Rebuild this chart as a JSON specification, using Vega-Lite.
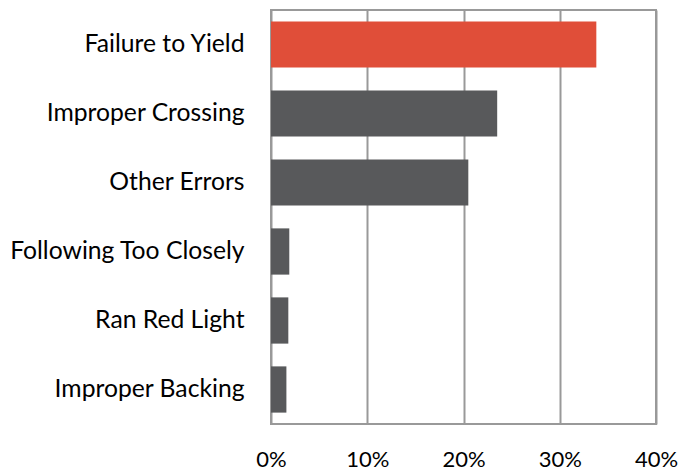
{
  "$schema": "https://vega.github.io/schema/vega-lite/v6.json",
  "autosize": {"type": "none"},
  "width": 385,
  "height": 414,
  "padding": {"left": 271, "top": 10, "right": 24, "bottom": 46},
  "background": "white",
  "data": {
    "values": [
      {"cause": "Failure to Yield", "share": 0.338, "highlight": "yes"},
      {"cause": "Improper Crossing", "share": 0.235, "highlight": "no"},
      {"cause": "Other Errors", "share": 0.205, "highlight": "no"},
      {"cause": "Following Too Closely", "share": 0.019, "highlight": "no"},
      {"cause": "Ran Red Light", "share": 0.018, "highlight": "no"},
      {"cause": "Improper Backing", "share": 0.016, "highlight": "no"}
    ]
  },
  "mark": {"type": "bar"},
  "encoding": {
    "y": {
      "field": "cause",
      "type": "nominal",
      "sort": null,
      "title": null,
      "scale": {"paddingInner": 0.33, "paddingOuter": 0.165},
      "axis": {"domain": false, "ticks": false, "labelPadding": 27, "labelFontSize": 24.7, "labelFont": "Lato", "labelColor": "#000000", "labelLimit": 300}
    },
    "x": {
      "field": "share",
      "type": "quantitative",
      "title": null,
      "scale": {"domain": [0, 0.4], "nice": false},
      "axis": {"format": ".0%", "values": [0, 0.1, 0.2, 0.3, 0.4], "grid": true, "gridColor": "#999999", "gridWidth": 2, "domain": false, "ticks": false, "labelPadding": 25, "labelFontSize": 22, "labelFont": "Lato", "labelColor": "#000000", "labelFlush": false}
    },
    "color": {
      "field": "highlight",
      "type": "nominal",
      "scale": {"domain": ["yes", "no"], "range": ["#E04E39", "#58595B"]},
      "legend": null
    }
  },
  "config": {
    "view": {"stroke": "#999999", "strokeWidth": 2}
  }
}
